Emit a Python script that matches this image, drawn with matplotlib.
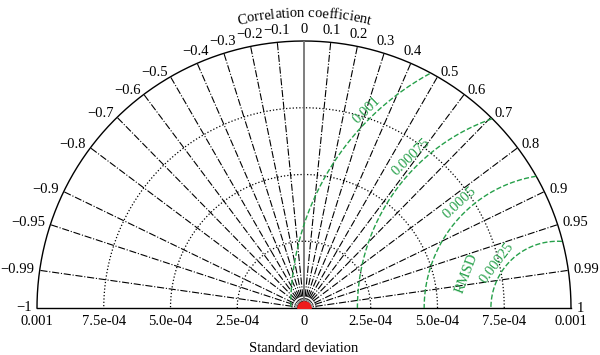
import numpy as np
import matplotlib
matplotlib.use('Agg')
import matplotlib.pyplot as plt
from matplotlib import font_manager
from matplotlib.ft2font import FT2Font

# correlation values drawn as radial lines
corr_pos = [0.1, 0.2, 0.3, 0.4, 0.5, 0.6, 0.7, 0.8, 0.9, 0.95, 0.99, 1]
corr_neg = [-0.1, -0.2, -0.3, -0.4, -0.5, -0.6, -0.7, -0.8, -0.9, -0.95, -0.99, -1]
# standard deviation arcs
std_ticks = [0.00025, 0.0005, 0.00075]
std_max = 0.001
std_labels_right = ['0', '2.5e-04', '5.0e-04', '7.5e-04', '0.001']
std_labels_left = ['7.5e-04', '5.0e-04', '2.5e-04', '0.001']
# RMSD contours around the reference std
ref_std = 0.00095
rmsd_levels = [0.00025, 0.0005, 0.00075, 0.001]
rmsd_labels = ['0.00025', '0.0005', '0.00075', '0.001']
# model point
model_std = [0.0]

green = '#26a04a'
fs = 10.5
plt.rcParams['font.family'] = ['Liberation Serif', 'DejaVu Serif']

fig = plt.figure(figsize=(6, 3.55), dpi=100)
ax = fig.add_axes([37/600, 47/355, 534/600, 267/355])
ax.set_xlim(-std_max, std_max)
ax.set_ylim(0, std_max)
ax.set_aspect('equal')
ax.axis('off')

t = np.linspace(0, np.pi, 400)

# std arcs
for s in std_ticks:
    ax.plot(s*np.cos(t), s*np.sin(t), ':', color='k', lw=0.9)
ax.plot(std_max*np.cos(t), std_max*np.sin(t), '-', color='k', lw=1.0, clip_on=False)

# small grey rings near origin
for s in [0.00003, 0.000045]:
    ax.plot(s*np.cos(t), s*np.sin(t), '-', color='0.5', lw=0.7)

# correlation lines
for c in corr_pos[:-1] + corr_neg[:-1]:
    a = np.arccos(c)
    ax.plot([0, std_max*np.cos(a)], [0, std_max*np.sin(a)], '-.', color='k', lw=0.8)
ax.plot([0, 0], [0, std_max], '-', color='0.45', lw=1.3)
ax.plot([-std_max, std_max], [0, 0], '-', color='k', lw=1.0, clip_on=False)

# RMSD contours (clipped to the outer circle)
for lv in rmsd_levels:
    x = ref_std + lv*np.cos(t)
    y = lv*np.sin(t)
    m = x**2 + y**2 <= std_max**2
    ax.plot(np.where(m, x, np.nan), np.where(m, y, np.nan), '--', color=green, lw=1.0)

# RMSD labels
lab_phi = [143, 133, 134, 134]
lab_off = [1.13, 1.08, 1.05, 1.03]
for lv, lab, ph, off in zip(rmsd_levels, rmsd_labels, lab_phi, lab_off):
    p = np.deg2rad(ph)
    ax.text(ref_std + off*lv*np.cos(p), off*lv*np.sin(p), lab, color=green,
            fontsize=fs, rotation=ph-90, ha='center', va='center',
            rotation_mode='anchor')
p = np.deg2rad(159)
ax.text(ref_std + 0.000365*np.cos(p), 0.000365*np.sin(p), 'RMSD', color=green,
        fontsize=fs, rotation=69, ha='center', va='center', rotation_mode='anchor')

# model marker
ax.plot(model_std, [0], 'o', color='#ee1c1c', ms=9.5, zorder=5)

# correlation tick labels
for c in [0] + corr_pos + corr_neg:
    a = np.arccos(c)
    deg = np.rad2deg(a)
    x = 1.02*std_max*np.cos(a)
    y = 1.02*std_max*np.sin(a)
    if 63 < deg < 117:
        ha, va = 'center', 'bottom'
    elif deg <= 63:
        ha, va = 'left', 'center'
    else:
        ha, va = 'right', 'center'
    lab = ('%g' % c).replace('-', '\u2212')
    ax.text(x, y, lab, fontsize=fs, ha=ha, va=va, clip_on=False)

# std tick labels
xs = [0] + std_ticks + [std_max]
for x, lab in zip(xs, std_labels_right):
    ax.annotate(lab, (x, 0), xytext=(0, -5), textcoords='offset points',
                ha='center', va='top', fontsize=fs)
for x, lab in zip([-0.00075, -0.0005, -0.00025, -std_max], std_labels_left):
    ax.annotate(lab, (x, 0), xytext=(0, -5), textcoords='offset points',
                ha='center', va='top', fontsize=fs)

ax.annotate('Standard deviation', (0, 0), xytext=(0, -29), textcoords='offset points',
            ha='center', va='center', fontsize=fs)

# curved title along an arc, each glyph placed at its pen position
title = 'Correlation coefficient'
r_title = 0.00109
font = FT2Font(font_manager.findfont('Liberation Serif'))
font.set_size(fs, 100)
adv = [font.load_char(ord(ch)).linearHoriAdvance / 65536 for ch in title]
total = sum(adv)
R_px = r_title * 267 / std_max
pos = 0.0
for ch, w in zip(title, adv):
    s = pos - total/2
    ang = np.pi/2 - s / R_px
    rot = -(pos + w/2 - total/2) / R_px
    pos += w
    if ch == ' ':
        continue
    ax.text(r_title*np.cos(ang), r_title*np.sin(ang), ch, fontsize=fs,
            rotation=np.rad2deg(rot), ha='left', va='baseline',
            rotation_mode='anchor', clip_on=False)

fig.savefig('out.png', dpi=100)
